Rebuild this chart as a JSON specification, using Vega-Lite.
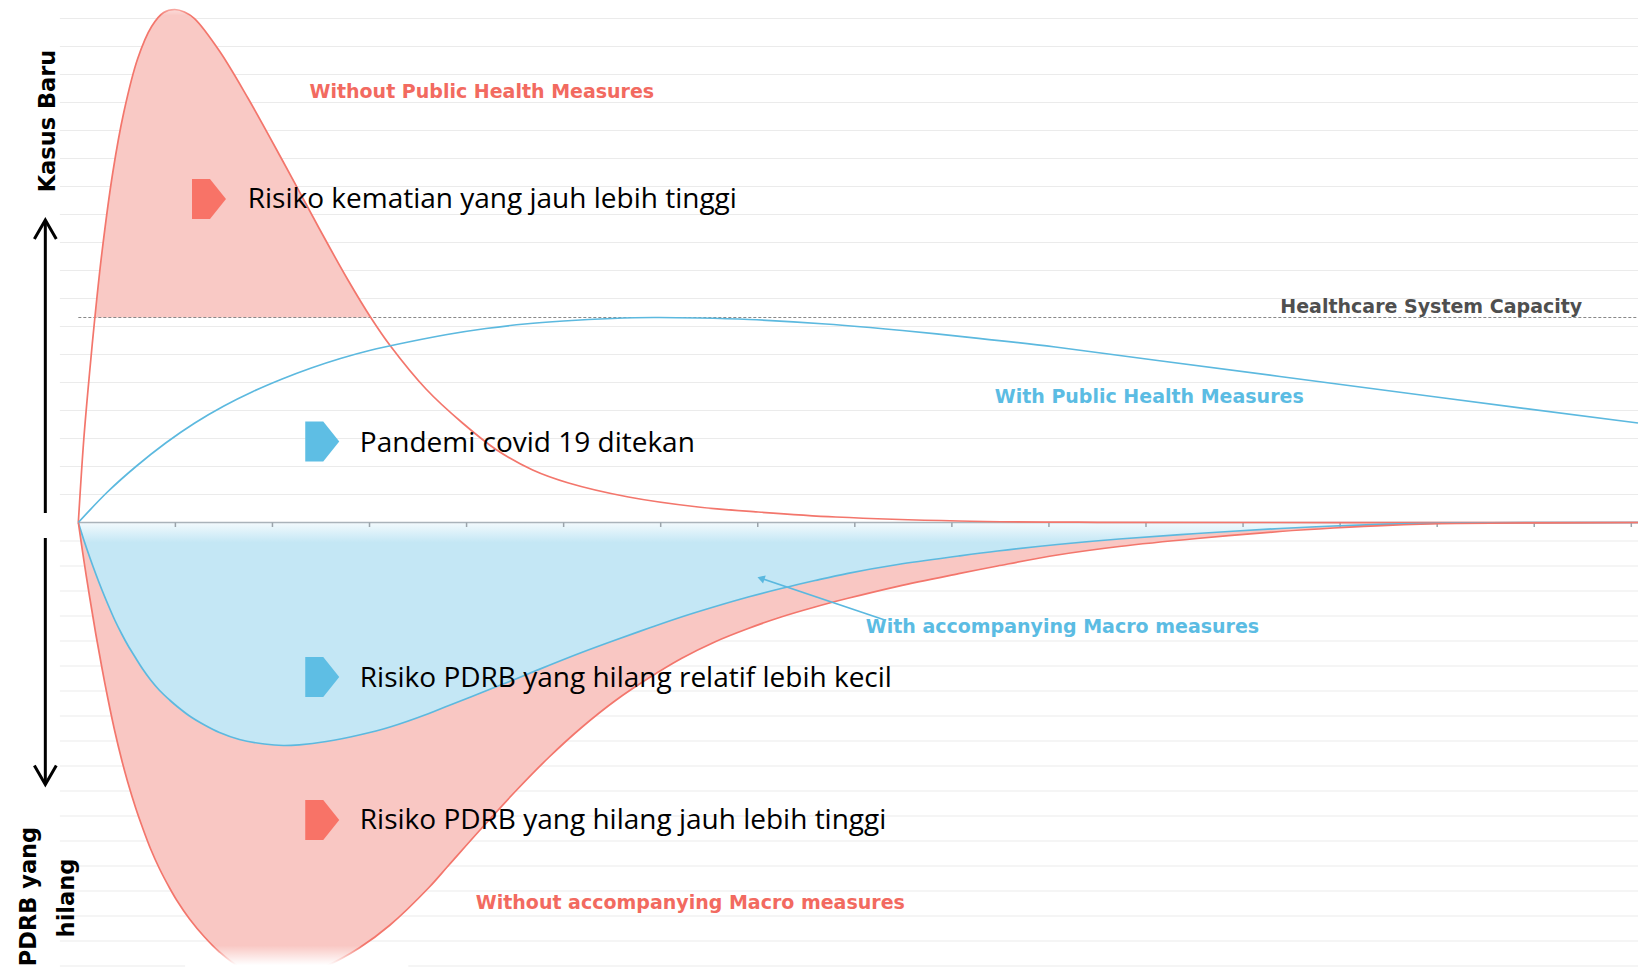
{
  "$schema": "https://vega.github.io/schema/vega-lite/v6.json",
  "width": 1642,
  "height": 970,
  "autosize": {"type": "fit", "contains": "padding"},
  "padding": 0,
  "background": "white",
  "config": {"view": {"stroke": null}},
  "datasets": {
    "grid": [
      {"v": 2.8}, {"v": 5.6}, {"v": 8.4}, {"v": 11.2}, {"v": 14.0}, {"v": 16.8}, {"v": 19.6}, {"v": 22.4}, {"v": 25.2},
      {"v": 28.0}, {"v": 30.8}, {"v": 33.6}, {"v": 36.4}, {"v": 39.2}, {"v": 42.0}, {"v": 44.8}, {"v": 47.6}, {"v": 50.4},
      {"v": -1.85}, {"v": -4.35}, {"v": -6.85}, {"v": -9.35}, {"v": -11.85}, {"v": -14.35}, {"v": -16.85}, {"v": -19.35},
      {"v": -21.85}, {"v": -24.35}, {"v": -26.85}, {"v": -29.35}, {"v": -31.85}, {"v": -34.35}, {"v": -36.85}, {"v": -39.35},
      {"v": -41.85}, {"v": -44.35}
    ],
    "refs": [
      {"k": "base", "t0": 0, "t1": 160.69, "v": 0},
      {"k": "cap", "t0": 0, "t1": 160.69, "v": 20.5}
    ],
    "ticks": [
      {"t": 10}, {"t": 20}, {"t": 30}, {"t": 40}, {"t": 50}, {"t": 60}, {"t": 70}, {"t": 80},
      {"t": 90}, {"t": 100}, {"t": 110}, {"t": 120}, {"t": 130}, {"t": 140}, {"t": 150}, {"t": 160}
    ],
    "up": [
      {"s": "red", "t": 0, "v": 0}, {"s": "red", "t": 0.565, "v": 8.35}, {"s": "red", "t": 1.18, "v": 15.2},
      {"s": "red", "t": 1.7, "v": 20.45}, {"s": "red", "t": 2.42, "v": 26.9}, {"s": "red", "t": 3.55, "v": 35.0},
      {"s": "red", "t": 4.68, "v": 41.0}, {"s": "red", "t": 6.12, "v": 46.4}, {"s": "red", "t": 7.55, "v": 49.6},
      {"s": "red", "t": 8.79, "v": 51.0}, {"s": "red", "t": 9.92, "v": 51.3}, {"s": "red", "t": 10.94, "v": 51.05},
      {"s": "red", "t": 11.97, "v": 50.39}, {"s": "red", "t": 14.54, "v": 47.15}, {"s": "red", "t": 17.47, "v": 42.45},
      {"s": "red", "t": 21.12, "v": 36.05}, {"s": "red", "t": 24.82, "v": 29.4}, {"s": "red", "t": 27.75, "v": 24.3},
      {"s": "red", "t": 30.16, "v": 20.45}, {"s": "red", "t": 32.12, "v": 17.7}, {"s": "red", "t": 35.82, "v": 13.35},
      {"s": "red", "t": 39.52, "v": 10.0}, {"s": "red", "t": 43.11, "v": 7.25}, {"s": "red", "t": 46.81, "v": 5.25},
      {"s": "red", "t": 50.51, "v": 3.95}, {"s": "red", "t": 56.68, "v": 2.55}, {"s": "red", "t": 63.87, "v": 1.55},
      {"s": "red", "t": 70.04, "v": 1.05}, {"s": "red", "t": 78.05, "v": 0.55}, {"s": "red", "t": 90.7, "v": 0.15},
      {"s": "red", "t": 105, "v": 0.02}, {"s": "red", "t": 160.69, "v": 0},
      {"s": "blue", "t": 0, "v": 0}, {"s": "blue", "t": 3, "v": 3.05}, {"s": "blue", "t": 6, "v": 5.65},
      {"s": "blue", "t": 9, "v": 7.95}, {"s": "blue", "t": 12, "v": 9.95}, {"s": "blue", "t": 15, "v": 11.65},
      {"s": "blue", "t": 18, "v": 13.1}, {"s": "blue", "t": 21, "v": 14.35}, {"s": "blue", "t": 24, "v": 15.45},
      {"s": "blue", "t": 27, "v": 16.4}, {"s": "blue", "t": 30, "v": 17.2}, {"s": "blue", "t": 34, "v": 18.05},
      {"s": "blue", "t": 38, "v": 18.8}, {"s": "blue", "t": 42, "v": 19.4}, {"s": "blue", "t": 46, "v": 19.85},
      {"s": "blue", "t": 50, "v": 20.15}, {"s": "blue", "t": 55, "v": 20.4}, {"s": "blue", "t": 59.3, "v": 20.5},
      {"s": "blue", "t": 64, "v": 20.45}, {"s": "blue", "t": 69.1, "v": 20.3}, {"s": "blue", "t": 77, "v": 19.85},
      {"s": "blue", "t": 84.9, "v": 19.2}, {"s": "blue", "t": 92.75, "v": 18.42}, {"s": "blue", "t": 100.66, "v": 17.55},
      {"s": "blue", "t": 111.2, "v": 16.2}, {"s": "blue", "t": 123.8, "v": 14.6}, {"s": "blue", "t": 140.3, "v": 12.5},
      {"s": "blue", "t": 160.69, "v": 9.95}
    ],
    "low": [
      {"t": 0, "b": 0, "r": 0}, {"t": 0.565, "b": -1.75, "r": -3.75}, {"t": 1.182, "b": -3.5, "r": -7.55},
      {"t": 1.799, "b": -5.15, "r": -11.15}, {"t": 2.415, "b": -6.7, "r": -14.45}, {"t": 3.032, "b": -8.15, "r": -17.55},
      {"t": 3.751, "b": -9.75, "r": -20.85}, {"t": 4.471, "b": -11.15, "r": -23.75}, {"t": 5.087, "b": -12.25, "r": -25.95},
      {"t": 5.91, "b": -13.55, "r": -28.55}, {"t": 6.629, "b": -14.65, "r": -30.55}, {"t": 7.451, "b": -15.75, "r": -32.65},
      {"t": 8.376, "b": -16.8, "r": -34.65}, {"t": 9.404, "b": -17.75, "r": -36.55}, {"t": 10.123, "b": -18.35, "r": -37.75},
      {"t": 11.459, "b": -19.35, "r": -39.65}, {"t": 13.001, "b": -20.25, "r": -41.45}, {"t": 14.543, "b": -21.0, "r": -42.95},
      {"t": 16.598, "b": -21.7, "r": -44.45}, {"t": 19.168, "b": -22.15, "r": -45.35}, {"t": 21.12, "b": -22.3, "r": -45.5},
      {"t": 22.765, "b": -22.23, "r": -45.25}, {"t": 25.54, "b": -21.9, "r": -44.35}, {"t": 28.931, "b": -21.25, "r": -42.55},
      {"t": 32.117, "b": -20.45, "r": -40.25}, {"t": 36.125, "b": -19.1, "r": -36.5}, {"t": 38.181, "b": -18.3, "r": -34.25},
      {"t": 41.572, "b": -17.0, "r": -30.55}, {"t": 45.067, "b": -15.65, "r": -26.85}, {"t": 48.458, "b": -14.3, "r": -23.5},
      {"t": 51.85, "b": -13.0, "r": -20.5}, {"t": 55.344, "b": -11.75, "r": -17.8}, {"t": 58.736, "b": -10.58, "r": -15.58},
      {"t": 62.127, "b": -9.45, "r": -13.6}, {"t": 65.622, "b": -8.4, "r": -11.92}, {"t": 69.013, "b": -7.45, "r": -10.6},
      {"t": 72.405, "b": -6.6, "r": -9.45}, {"t": 75.899, "b": -5.8, "r": -8.45}, {"t": 79.291, "b": -5.08, "r": -7.58},
      {"t": 84.43, "b": -4.2, "r": -6.38}, {"t": 90.699, "b": -3.35, "r": -5.12}, {"t": 94.707, "b": -2.85, "r": -4.35},
      {"t": 100.874, "b": -2.2, "r": -3.25}, {"t": 107.246, "b": -1.65, "r": -2.4}, {"t": 115.262, "b": -1.1, "r": -1.6},
      {"t": 123.793, "b": -0.6, "r": -0.9}, {"t": 129.342, "b": -0.35, "r": -0.55}, {"t": 134.892, "b": -0.17, "r": -0.28},
      {"t": 141.984, "b": -0.05, "r": -0.1}, {"t": 160.689, "b": 0, "r": 0}
    ],
    "fades": [
      {"pos": "bottom", "t1": 11, "t2": 34, "v1": -42.3, "v2": -44.75},
      {"pos": "top", "t1": 5, "t2": 16, "v1": 52.25, "v2": 50.7}
    ],
    "arrows": [
      {"g": "upline", "o": 0, "t": -3.4, "v": 0.95}, {"g": "upline", "o": 1, "t": -3.4, "v": 30.0},
      {"g": "uphead", "o": 0, "t": -4.53, "v": 28.35}, {"g": "uphead", "o": 1, "t": -3.4, "v": 30.25}, {"g": "uphead", "o": 2, "t": -2.27, "v": 28.35},
      {"g": "dnline", "o": 0, "t": -3.4, "v": -1.55}, {"g": "dnline", "o": 1, "t": -3.4, "v": -26.0},
      {"g": "dnhead", "o": 0, "t": -4.53, "v": -24.3}, {"g": "dnhead", "o": 1, "t": -3.4, "v": -26.2}, {"g": "dnhead", "o": 2, "t": -2.27, "v": -24.3},
      {"g": "ptr", "o": 0, "t": 83.09, "v": -9.75}, {"g": "ptr", "o": 1, "t": 70.33, "v": -5.58}
    ],
    "heads": [{"t": 70.33, "v": -5.58}],
    "markers": [
      {"c": "red", "t": 13.46, "v": 32.35},
      {"c": "blue", "t": 25.13, "v": 8.1},
      {"c": "blue", "t": 25.13, "v": -15.45},
      {"c": "red", "t": 25.13, "v": -29.75}
    ],
    "labels": [
      {"k": "big", "label": "Risiko kematian yang jauh lebih tinggi", "t": 17.45, "v": 31.42},
      {"k": "big", "label": "Pandemi covid 19 ditekan", "t": 29.0, "v": 7.05},
      {"k": "big", "label": "Risiko PDRB yang hilang relatif lebih kecil", "t": 29.0, "v": -16.42},
      {"k": "big", "label": "Risiko PDRB yang hilang  jauh lebih tinggi", "t": 29.0, "v": -30.65},
      {"k": "without", "label": "Without Public Health Measures", "t": 41.57, "v": 42.45},
      {"k": "without", "label": "Without accompanying Macro measures", "t": 63.05, "v": -38.68},
      {"k": "with", "label": "With Public Health Measures", "t": 110.33, "v": 11.92},
      {"k": "with", "label": "With accompanying Macro measures", "t": 101.39, "v": -11.08},
      {"k": "cap", "label": "Healthcare System Capacity", "t": 139.39, "v": 20.92},
      {"k": "axis", "label": "Kasus Baru", "t": -2.42, "v": 40.15},
      {"k": "axis", "label": "PDRB yang", "t": -4.37, "v": -37.4},
      {"k": "axis", "label": "hilang", "t": -0.46, "v": -37.55}
    ]
  },
  "layer": [
    {
      "data": {"name": "grid"},
      "mark": {"type": "rule", "color": "#ebebeb", "strokeWidth": 1},
      "encoding": {
        "x": {"datum": -1.9, "type": "quantitative", "scale": {"domain": [-8.07, 160.69], "nice": false, "zero": false}, "axis": null},
        "x2": {"datum": 160.69},
        "y": {"field": "v", "type": "quantitative", "scale": {"domain": [-44.75, 52.25], "nice": false, "zero": false}, "axis": null}
      }
    },
    {
      "data": {"name": "low"},
      "mark": {"type": "area", "interpolate": "catmull-rom", "clip": true,
        "color": {"gradient": "linear", "x1": 0, "y1": 0, "x2": 0, "y2": 1,
          "stops": [{"offset": 0, "color": "#f3fafd"}, {"offset": 0.09, "color": "#c4e7f5"}, {"offset": 1, "color": "#c4e7f5"}]}},
      "encoding": {
        "x": {"field": "t", "type": "quantitative", "scale": {"domain": [-8.07, 160.69], "nice": false, "zero": false}, "axis": null},
        "y": {"field": "b", "type": "quantitative", "scale": {"domain": [-44.75, 52.25], "nice": false, "zero": false}, "axis": null},
        "y2": {"datum": 0}
      }
    },
    {
      "data": {"name": "low"},
      "mark": {"type": "area", "interpolate": "catmull-rom", "clip": true, "color": "#f9c7c3"},
      "encoding": {
        "x": {"field": "t", "type": "quantitative", "scale": {"domain": [-8.07, 160.69], "nice": false, "zero": false}, "axis": null},
        "y": {"field": "r", "type": "quantitative", "scale": {"domain": [-44.75, 52.25], "nice": false, "zero": false}, "axis": null},
        "y2": {"field": "b"}
      }
    },
    {
      "data": {"name": "up"},
      "transform": [{"filter": "datum.s === 'red' && datum.v >= 20.4"}],
      "mark": {"type": "area", "interpolate": "catmull-rom", "color": "#f9c9c5"},
      "encoding": {
        "x": {"field": "t", "type": "quantitative", "scale": {"domain": [-8.07, 160.69], "nice": false, "zero": false}, "axis": null},
        "y": {"field": "v", "type": "quantitative", "scale": {"domain": [-44.75, 52.25], "nice": false, "zero": false}, "axis": null},
        "y2": {"datum": 20.5}
      }
    },
    {
      "data": {"name": "refs"},
      "transform": [{"filter": "datum.k === 'base'"}],
      "mark": {"type": "rule", "color": "#aab3ba", "strokeWidth": 1.5},
      "encoding": {
        "x": {"field": "t0", "type": "quantitative", "scale": {"domain": [-8.07, 160.69], "nice": false, "zero": false}, "axis": null},
        "x2": {"field": "t1"},
        "y": {"field": "v", "type": "quantitative", "scale": {"domain": [-44.75, 52.25], "nice": false, "zero": false}, "axis": null}
      }
    },
    {
      "data": {"name": "ticks"},
      "mark": {"type": "rule", "color": "#9ba4ab", "strokeWidth": 1.5},
      "encoding": {
        "x": {"field": "t", "type": "quantitative", "scale": {"domain": [-8.07, 160.69], "nice": false, "zero": false}, "axis": null},
        "y": {"datum": 0, "type": "quantitative", "scale": {"domain": [-44.75, 52.25], "nice": false, "zero": false}, "axis": null},
        "y2": {"datum": -0.45}
      }
    },
    {
      "data": {"name": "refs"},
      "transform": [{"filter": "datum.k === 'cap'"}],
      "mark": {"type": "rule", "color": "#888888", "strokeWidth": 1.2, "strokeDash": [3, 2]},
      "encoding": {
        "x": {"field": "t0", "type": "quantitative", "scale": {"domain": [-8.07, 160.69], "nice": false, "zero": false}, "axis": null},
        "x2": {"field": "t1"},
        "y": {"field": "v", "type": "quantitative", "scale": {"domain": [-44.75, 52.25], "nice": false, "zero": false}, "axis": null}
      }
    },
    {
      "data": {"name": "up"},
      "transform": [{"filter": "datum.s === 'red'"}],
      "mark": {"type": "line", "interpolate": "catmull-rom", "color": "#f3766c", "strokeWidth": 1.7},
      "encoding": {
        "x": {"field": "t", "type": "quantitative", "scale": {"domain": [-8.07, 160.69], "nice": false, "zero": false}, "axis": null},
        "y": {"field": "v", "type": "quantitative", "scale": {"domain": [-44.75, 52.25], "nice": false, "zero": false}, "axis": null}
      }
    },
    {
      "data": {"name": "up"},
      "transform": [{"filter": "datum.s === 'blue'"}],
      "mark": {"type": "line", "interpolate": "catmull-rom", "color": "#5cb9df", "strokeWidth": 1.7},
      "encoding": {
        "x": {"field": "t", "type": "quantitative", "scale": {"domain": [-8.07, 160.69], "nice": false, "zero": false}, "axis": null},
        "y": {"field": "v", "type": "quantitative", "scale": {"domain": [-44.75, 52.25], "nice": false, "zero": false}, "axis": null}
      }
    },
    {
      "data": {"name": "low"},
      "mark": {"type": "line", "interpolate": "catmull-rom", "clip": true, "color": "#5cb9df", "strokeWidth": 1.7},
      "encoding": {
        "x": {"field": "t", "type": "quantitative", "scale": {"domain": [-8.07, 160.69], "nice": false, "zero": false}, "axis": null},
        "y": {"field": "b", "type": "quantitative", "scale": {"domain": [-44.75, 52.25], "nice": false, "zero": false}, "axis": null}
      }
    },
    {
      "data": {"name": "low"},
      "mark": {"type": "line", "interpolate": "catmull-rom", "clip": true, "color": "#f3766c", "strokeWidth": 1.7},
      "encoding": {
        "x": {"field": "t", "type": "quantitative", "scale": {"domain": [-8.07, 160.69], "nice": false, "zero": false}, "axis": null},
        "y": {"field": "r", "type": "quantitative", "scale": {"domain": [-44.75, 52.25], "nice": false, "zero": false}, "axis": null}
      }
    },
    {
      "data": {"name": "fades"},
      "transform": [{"filter": "datum.pos === 'bottom'"}],
      "mark": {"type": "rect", "clip": true,
        "color": {"gradient": "linear", "x1": 0, "y1": 0, "x2": 0, "y2": 1,
          "stops": [{"offset": 0, "color": "rgba(255,255,255,0)"}, {"offset": 0.8, "color": "rgba(255,255,255,1)"}, {"offset": 1, "color": "rgba(255,255,255,1)"}]}},
      "encoding": {
        "x": {"field": "t1", "type": "quantitative", "scale": {"domain": [-8.07, 160.69], "nice": false, "zero": false}, "axis": null},
        "x2": {"field": "t2"},
        "y": {"field": "v1", "type": "quantitative", "scale": {"domain": [-44.75, 52.25], "nice": false, "zero": false}, "axis": null},
        "y2": {"field": "v2"}
      }
    },
    {
      "data": {"name": "fades"},
      "transform": [{"filter": "datum.pos === 'top'"}],
      "mark": {"type": "rect", "clip": true,
        "color": {"gradient": "linear", "x1": 0, "y1": 0, "x2": 0, "y2": 1,
          "stops": [{"offset": 0, "color": "rgba(255,255,255,0.9)"}, {"offset": 1, "color": "rgba(255,255,255,0)"}]}},
      "encoding": {
        "x": {"field": "t1", "type": "quantitative", "scale": {"domain": [-8.07, 160.69], "nice": false, "zero": false}, "axis": null},
        "x2": {"field": "t2"},
        "y": {"field": "v1", "type": "quantitative", "scale": {"domain": [-44.75, 52.25], "nice": false, "zero": false}, "axis": null},
        "y2": {"field": "v2"}
      }
    },
    {
      "data": {"name": "arrows"},
      "transform": [{"filter": "datum.g !== 'ptr'"}],
      "mark": {"type": "line", "color": "#000000", "strokeWidth": 3, "strokeJoin": "miter"},
      "encoding": {
        "x": {"field": "t", "type": "quantitative", "scale": {"domain": [-8.07, 160.69], "nice": false, "zero": false}, "axis": null},
        "y": {"field": "v", "type": "quantitative", "scale": {"domain": [-44.75, 52.25], "nice": false, "zero": false}, "axis": null},
        "detail": {"field": "g", "type": "nominal"},
        "order": {"field": "o", "type": "quantitative"}
      }
    },
    {
      "data": {"name": "arrows"},
      "transform": [{"filter": "datum.g === 'ptr'"}],
      "mark": {"type": "line", "color": "#5ab8df", "strokeWidth": 1.6},
      "encoding": {
        "x": {"field": "t", "type": "quantitative", "scale": {"domain": [-8.07, 160.69], "nice": false, "zero": false}, "axis": null},
        "y": {"field": "v", "type": "quantitative", "scale": {"domain": [-44.75, 52.25], "nice": false, "zero": false}, "axis": null},
        "order": {"field": "o", "type": "quantitative"}
      }
    },
    {
      "data": {"name": "heads"},
      "mark": {"type": "point", "shape": "triangle-right", "angle": 198.6, "size": 70, "filled": true, "opacity": 1, "color": "#5ab8df"},
      "encoding": {
        "x": {"field": "t", "type": "quantitative", "scale": {"domain": [-8.07, 160.69], "nice": false, "zero": false}, "axis": null},
        "y": {"field": "v", "type": "quantitative", "scale": {"domain": [-44.75, 52.25], "nice": false, "zero": false}, "axis": null}
      }
    },
    {
      "data": {"name": "markers"},
      "transform": [{"filter": "datum.c === 'red'"}],
      "mark": {"type": "point", "shape": "M-0.85,-1L0.05,-1L0.85,0L0.05,1L-0.85,1Z", "size": 1600, "filled": true, "opacity": 1, "color": "#f87367"},
      "encoding": {
        "x": {"field": "t", "type": "quantitative", "scale": {"domain": [-8.07, 160.69], "nice": false, "zero": false}, "axis": null},
        "y": {"field": "v", "type": "quantitative", "scale": {"domain": [-44.75, 52.25], "nice": false, "zero": false}, "axis": null}
      }
    },
    {
      "data": {"name": "markers"},
      "transform": [{"filter": "datum.c === 'blue'"}],
      "mark": {"type": "point", "shape": "M-0.85,-1L0.05,-1L0.85,0L0.05,1L-0.85,1Z", "size": 1600, "filled": true, "opacity": 1, "color": "#5ebee4"},
      "encoding": {
        "x": {"field": "t", "type": "quantitative", "scale": {"domain": [-8.07, 160.69], "nice": false, "zero": false}, "axis": null},
        "y": {"field": "v", "type": "quantitative", "scale": {"domain": [-44.75, 52.25], "nice": false, "zero": false}, "axis": null}
      }
    },
    {
      "data": {"name": "labels"},
      "transform": [{"filter": "datum.k === 'big'"}],
      "mark": {"type": "text", "font": "Open Sans", "fontSize": 28, "align": "left", "baseline": "alphabetic", "color": "#000000"},
      "encoding": {
        "x": {"field": "t", "type": "quantitative", "scale": {"domain": [-8.07, 160.69], "nice": false, "zero": false}, "axis": null},
        "y": {"field": "v", "type": "quantitative", "scale": {"domain": [-44.75, 52.25], "nice": false, "zero": false}, "axis": null},
        "text": {"field": "label", "type": "nominal"}
      }
    },
    {
      "data": {"name": "labels"},
      "transform": [{"filter": "datum.k === 'without'"}],
      "mark": {"type": "text", "font": "DejaVu Sans", "fontWeight": "bold", "fontSize": 19, "align": "center", "baseline": "alphabetic", "color": "#f26a60"},
      "encoding": {
        "x": {"field": "t", "type": "quantitative", "scale": {"domain": [-8.07, 160.69], "nice": false, "zero": false}, "axis": null},
        "y": {"field": "v", "type": "quantitative", "scale": {"domain": [-44.75, 52.25], "nice": false, "zero": false}, "axis": null},
        "text": {"field": "label", "type": "nominal"}
      }
    },
    {
      "data": {"name": "labels"},
      "transform": [{"filter": "datum.k === 'with'"}],
      "mark": {"type": "text", "font": "DejaVu Sans", "fontWeight": "bold", "fontSize": 19, "align": "center", "baseline": "alphabetic", "color": "#5bbce3"},
      "encoding": {
        "x": {"field": "t", "type": "quantitative", "scale": {"domain": [-8.07, 160.69], "nice": false, "zero": false}, "axis": null},
        "y": {"field": "v", "type": "quantitative", "scale": {"domain": [-44.75, 52.25], "nice": false, "zero": false}, "axis": null},
        "text": {"field": "label", "type": "nominal"}
      }
    },
    {
      "data": {"name": "labels"},
      "transform": [{"filter": "datum.k === 'cap'"}],
      "mark": {"type": "text", "font": "DejaVu Sans", "fontWeight": "bold", "fontSize": 19, "align": "center", "baseline": "alphabetic", "color": "#4f4f4f"},
      "encoding": {
        "x": {"field": "t", "type": "quantitative", "scale": {"domain": [-8.07, 160.69], "nice": false, "zero": false}, "axis": null},
        "y": {"field": "v", "type": "quantitative", "scale": {"domain": [-44.75, 52.25], "nice": false, "zero": false}, "axis": null},
        "text": {"field": "label", "type": "nominal"}
      }
    },
    {
      "data": {"name": "labels"},
      "transform": [{"filter": "datum.k === 'axis'"}],
      "mark": {"type": "text", "font": "DejaVu Sans", "fontWeight": "bold", "fontSize": 22.5, "angle": 270, "align": "center", "baseline": "alphabetic", "color": "#000000"},
      "encoding": {
        "x": {"field": "t", "type": "quantitative", "scale": {"domain": [-8.07, 160.69], "nice": false, "zero": false}, "axis": null},
        "y": {"field": "v", "type": "quantitative", "scale": {"domain": [-44.75, 52.25], "nice": false, "zero": false}, "axis": null},
        "text": {"field": "label", "type": "nominal"}
      }
    }
  ]
}
